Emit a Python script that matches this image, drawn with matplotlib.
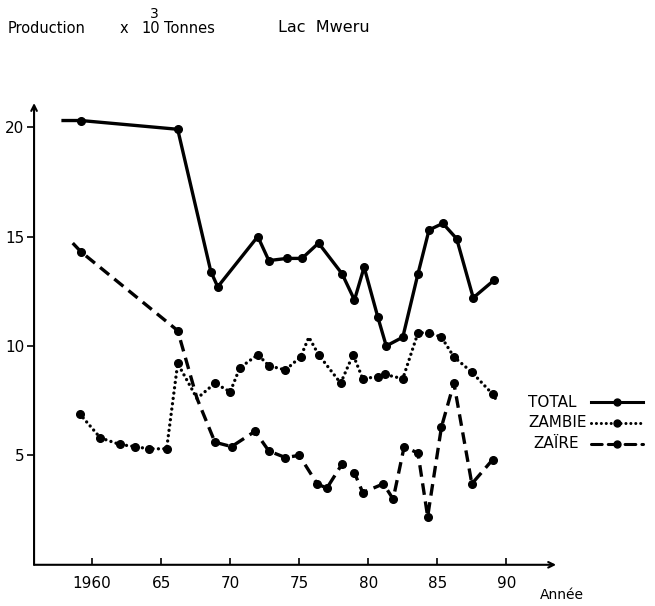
import matplotlib
matplotlib.use("Agg")
import matplotlib.pyplot as plt
from matplotlib.lines import Line2D

plt.rcParams["font.family"] = ["DejaVu Sans"]

# data (years are where the hand-drawn points sit)
years_total = [1957.9, 1959.2, 1966.2, 1968.6, 1969.1, 1972.0, 1972.8, 1974.1, 1975.2, 1976.4, 1978.1,
               1979.0, 1979.7, 1980.7, 1981.3, 1982.5, 1983.6, 1984.4, 1985.4, 1986.4, 1987.6, 1989.1]
total = [20.3, 20.3, 19.9, 13.4, 12.7, 15.0, 13.9, 14.0, 14.0, 14.7, 13.3,
         12.1, 13.6, 11.3, 10.0, 10.4, 13.3, 15.3, 15.6, 14.9, 12.2, 13.0]

years_zambie = [1959.1, 1960.6, 1962.0, 1963.1, 1964.1, 1965.4, 1966.2, 1967.6, 1968.9, 1970.0,
                1970.7, 1972.0, 1972.8, 1974.0, 1975.1, 1975.7, 1976.4, 1978.0, 1978.9, 1979.6,
                1980.7, 1981.2, 1982.5, 1983.6, 1984.4, 1985.3, 1986.2, 1987.5, 1989.0, 1989.3]
zambie = [6.9, 5.8, 5.5, 5.4, 5.3, 5.3, 9.2, 7.6, 8.3, 7.9,
          9.0, 9.6, 9.1, 8.9, 9.5, 10.4, 9.6, 8.3, 9.6, 8.5,
          8.6, 8.7, 8.5, 10.6, 10.6, 10.4, 9.5, 8.8, 7.8, 7.5]

years_zaire = [1958.6, 1959.2, 1966.2, 1967.6, 1968.9, 1970.1, 1971.8, 1972.8, 1974.0, 1975.0, 1976.3, 1977.0,
               1978.1, 1979.0, 1979.6, 1981.1, 1981.8, 1982.6, 1983.6, 1984.3, 1985.3, 1986.2, 1987.5, 1989.0]
zaire = [14.7, 14.3, 10.7, 7.6, 5.6, 5.4, 6.1, 5.2, 4.9, 5.0, 3.7, 3.5,
         4.6, 4.2, 3.3, 3.7, 3.0, 5.4, 5.1, 2.2, 6.3, 8.3, 3.7, 4.8]

xticks = [1960, 1965, 1970, 1975, 1980, 1985, 1990]
xlabels = ["1960", "65", "70", "75", "80", "85", "90"]
yticks = [5, 10, 15, 20]
names = ["TOTAL", "ZAMBIE", "ZAÏRE"]

# points drawn without a dot in the original
total_marks = [i for i in range(len(total)) if i != 0]
zambie_marks = [i for i in range(len(zambie)) if i not in (7, 15, 29)]
zaire_marks = [i for i in range(len(zaire)) if i not in (0, 3)]

solid = "-"
dotted = (0, (0.01, 1.6))
dashed = (0, (3.5, 2))

fig = plt.figure(figsize=(6.55, 6.06), dpi=100)
ax = fig.add_axes([0.052, 0.068, 0.797, 0.762])

ax.plot(years_total, total, color="black", lw=2.4, ls=solid, marker="o", ms=5.5,
        markevery=total_marks)
ax.plot(years_zambie, zambie, color="black", lw=2.4, ls=dotted, dash_capstyle="round",
        marker="o", ms=5.5, markevery=zambie_marks)
ax.plot(years_zaire, zaire, color="black", lw=2.4, ls=dashed,
        marker="o", ms=5.5, markevery=zaire_marks)

ax.set_xlim(1955.8, 1993.6)
ax.set_ylim(0, 21.1)

# axes drawn as arrows
for s in ax.spines.values():
    s.set_visible(False)
ax.annotate("", xy=(0, 1), xytext=(0, 0), xycoords="axes fraction",
            arrowprops=dict(arrowstyle="->", lw=1.5, color="black", shrinkA=0, shrinkB=0))
ax.annotate("", xy=(1, 0), xytext=(0, 0), xycoords="axes fraction",
            arrowprops=dict(arrowstyle="->", lw=1.5, color="black", shrinkA=0, shrinkB=0))

ax.set_xticks(xticks)
ax.set_xticklabels(xlabels, fontsize=11)
ax.set_yticks(yticks)
ax.set_yticklabels([str(v) for v in yticks], fontsize=11)
ax.tick_params(axis="x", direction="in", length=5, width=1.2, pad=8)
ax.tick_params(axis="y", direction="out", length=5, width=1.2, pad=2)

# header texts
fig.text(0.012, 0.945, "Production", fontsize=10.5, ha="left", va="baseline")
fig.text(0.182, 0.945, "x", fontsize=10.5, ha="left", va="baseline")
fig.text(0.245, 0.945, "10", fontsize=10.5, ha="right", va="baseline")
fig.text(0.236, 0.970, "3", fontsize=10, ha="center", va="baseline")
fig.text(0.251, 0.945, "Tonnes", fontsize=10.5, ha="left", va="baseline")
fig.text(0.425, 0.948, "Lac  Mweru", fontsize=11.5, ha="left", va="baseline")
fig.text(0.825, 0.012, "Année", fontsize=10, ha="left", va="baseline")

# legend: text first, line sample after
leg_y = [0.336, 0.302, 0.268]
leg_x = [0.806, 0.806, 0.814]
styles = [solid, dotted, dashed]
for name, ly, lx, st in zip(names, leg_y, leg_x, styles):
    fig.text(lx, ly, name, fontsize=11, ha="left", va="center")
    fig.add_artist(Line2D([0.902, 0.942, 0.982], [ly, ly, ly], transform=fig.transFigure,
                          color="black", lw=2.2, ls=st, dash_capstyle="round",
                          marker="o", ms=5, markevery=[1]))

fig.savefig("out.png", dpi=100)
